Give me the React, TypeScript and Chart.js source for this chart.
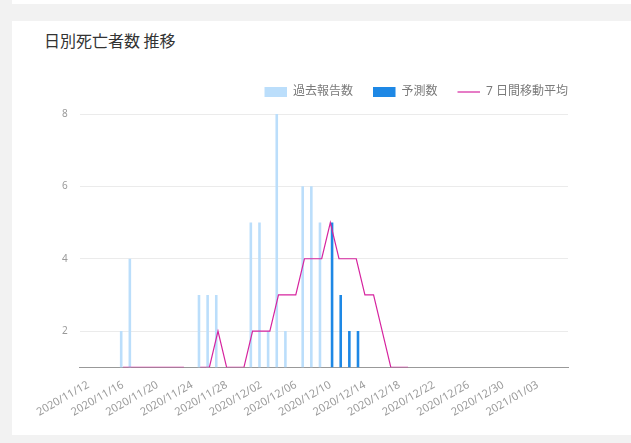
import React, { useEffect, useRef } from 'react';
import { Chart, registerables } from 'chart.js';

Chart.register(...registerables);

// every day on the x axis, 2020/11/11 .. 2021/01/06
const dates = [
    '2020/11/11', '2020/11/12', '2020/11/13', '2020/11/14', '2020/11/15', '2020/11/16', '2020/11/17',
    '2020/11/18', '2020/11/19', '2020/11/20', '2020/11/21', '2020/11/22', '2020/11/23', '2020/11/24',
    '2020/11/25', '2020/11/26', '2020/11/27', '2020/11/28', '2020/11/29', '2020/11/30', '2020/12/01',
    '2020/12/02', '2020/12/03', '2020/12/04', '2020/12/05', '2020/12/06', '2020/12/07', '2020/12/08',
    '2020/12/09', '2020/12/10', '2020/12/11', '2020/12/12', '2020/12/13', '2020/12/14', '2020/12/15',
    '2020/12/16', '2020/12/17', '2020/12/18', '2020/12/19', '2020/12/20', '2020/12/21', '2020/12/22',
    '2020/12/23', '2020/12/24', '2020/12/25', '2020/12/26', '2020/12/27', '2020/12/28', '2020/12/29',
    '2020/12/30', '2020/12/31', '2021/01/01', '2021/01/02', '2021/01/03', '2021/01/04', '2021/01/05',
    '2021/01/06',
];

const tickLabels = [
    '2020/11/12', '2020/11/16', '2020/11/20', '2020/11/24', '2020/11/28', '2020/12/02', '2020/12/06',
    '2020/12/10', '2020/12/14', '2020/12/18', '2020/12/22', '2020/12/26', '2020/12/30', '2021/01/03',
];

// 過去報告数, from 2020/11/16
const pastStart = '2020/11/16';
const pastReported = [2, 4, 0, 0, 0, 0, 0, 0, 0, 3, 3, 3, 0, 0, 0, 5, 5, 2, 8, 2, 0, 6, 6, 5];

// 予測数, from 2020/12/10
const predictedStart = '2020/12/10';
const predicted = [5, 3, 2, 2, 0, 0, 0, 0, 0, 0];

// 7 日間移動平均, from 2020/11/16
const averageStart = '2020/11/16';
const movingAverage = [1, 1, 1, 1, 1, 1, 1, 1, 0, 1, 1, 2, 1, 1, 1, 2, 2, 2, 3, 3, 3, 4, 4, 4, 5, 4, 4, 4, 3, 3, 2, 1, 1, 1];

const yTicks = [2, 4, 6, 8];

const toPoints = (values: number[], start: string) =>
    values.map((y, i) => ({ x: dates.indexOf(start) + i, y }));

const FONT = "'Noto Sans', 'Noto Sans CJK JP', sans-serif";

// a little more room under the legend
const legendGap = {
    id: 'legendGap',
    beforeInit(chart: any) {
        const fit = chart.legend.fit;
        chart.legend.fit = function () {
            fit.call(this);
            this.height += 6;
        };
    },
};

const DeathsChart: React.FC = () => {
    const chartRef = useRef<HTMLCanvasElement>(null);
    const chartInstanceRef = useRef<Chart | null>(null);

    useEffect(() => {
        const ctx = chartRef.current?.getContext('2d');
        if (!ctx) return;

        chartInstanceRef.current = new Chart(ctx, {
            type: 'bar',
            data: {
                datasets: [
                    {
                        type: 'bar',
                        label: '過去報告数',
                        data: toPoints(pastReported, pastStart),
                        backgroundColor: '#bbdefb',
                        borderWidth: 0,
                        barPercentage: 0.75,
                        pointStyle: 'rect',
                        clip: 0,
                        order: 1,
                    },
                    {
                        type: 'bar',
                        label: '予測数',
                        data: toPoints(predicted, predictedStart),
                        backgroundColor: '#1e88e5',
                        borderWidth: 0,
                        barPercentage: 0.75,
                        pointStyle: 'rect',
                        clip: 0,
                        order: 1,
                    },
                    {
                        type: 'line',
                        label: '7 日間移動平均',
                        data: toPoints(movingAverage, averageStart),
                        borderColor: '#d6249f',
                        backgroundColor: '#d6249f',
                        borderWidth: 1.2,
                        pointRadius: 0,
                        pointStyle: 'line',
                        tension: 0,
                        fill: false,
                        order: 0,
                    },
                ] as any,
            },
            options: {
                responsive: true,
                maintainAspectRatio: false,
                animation: false,
                layout: { padding: { left: 20, right: 42, top: 26, bottom: 8 } },
                scales: {
                    x: {
                        type: 'linear',
                        offset: false,
                        min: 0,
                        max: 56.5,
                        grid: { display: false, offset: false },
                        border: { display: true, color: '#999999' },
                        afterBuildTicks: (scale: any) => {
                            scale.ticks = tickLabels.map(l => ({ value: dates.indexOf(l) }));
                        },
                        afterFit: (scale: any) => {
                            // rotated labels may hang left of the plot; plot ends 20px short of the legend
                            scale.paddingLeft = 0;
                            scale.paddingRight = 62;
                        },
                        ticks: {
                            autoSkip: false,
                            minRotation: 30,
                            maxRotation: 30,
                            padding: 3,
                            color: '#9a9a9a',
                            font: { family: FONT, size: 11 },
                            callback: (value: any) => dates[value],
                        },
                    },
                    y: {
                        min: 1,
                        max: 8,
                        afterBuildTicks: (scale: any) => {
                            scale.ticks = yTicks.map(v => ({ value: v }));
                        },
                        grid: { color: '#ebebeb', drawTicks: false },
                        border: { display: false },
                        ticks: {
                            padding: 12,
                            color: '#9a9a9a',
                            font: { family: FONT, size: 10 },
                        },
                    },
                },
                plugins: {
                    legend: {
                        position: 'top',
                        align: 'end',
                        labels: {
                            usePointStyle: true,
                            pointStyleWidth: 22.5,
                            boxHeight: 10,
                            padding: 20,
                            color: '#7a7a7a',
                            font: { family: FONT, size: 12 },
                            sort: (a: any, b: any) => a.datasetIndex - b.datasetIndex,
                        },
                    },
                    tooltip: { enabled: false },
                },
            },
            plugins: [legendGap],
        });

        return () => {
            if (chartInstanceRef.current) {
                chartInstanceRef.current.destroy();
                chartInstanceRef.current = null;
            }
        };
    }, []);

    return <canvas ref={chartRef}></canvas>;
};

const App: React.FC = () => {
    return (
        <div style={{ position: 'fixed', left: 0, top: 0, width: 631, height: 443, background: '#f2f2f2', overflow: 'hidden' }}>
            <div style={{ position: 'absolute', left: 12, top: 0, right: 0, height: 4, background: '#ffffff' }} />
            <div style={{ position: 'absolute', left: 12, top: 21, right: 0, height: 414, background: '#ffffff' }} />
            <div
                style={{
                    position: 'absolute',
                    left: 44,
                    top: 30,
                    fontSize: 16,
                    lineHeight: '20px',
                    color: '#333333',
                    fontFamily: "'Noto Sans CJK JP', sans-serif",
                    whiteSpace: 'nowrap',
                }}
            >
                日別死亡者数 推移
            </div>
            <div style={{ position: 'absolute', left: 30, top: 40, width: 600, height: 390 }}>
                <DeathsChart />
            </div>
        </div>
    );
};

export default App;
